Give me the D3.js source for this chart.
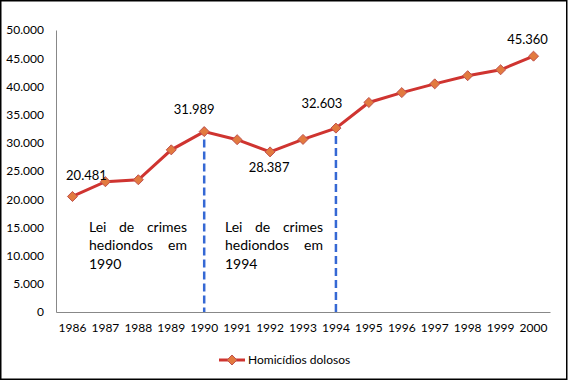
<!DOCTYPE html>
<html>
<head>
<meta charset="utf-8">
<script src="https://cdn.jsdelivr.net/npm/d3@7"></script>
<style>
  body { margin: 0; background: #fff; }
  text { font-family: Lato, "Open Sans", sans-serif; fill: #000; }
</style>
</head>
<body>
<svg id="chart" width="569" height="381"></svg>
<script>
// data
let years = [1986, 1987, 1988, 1989, 1990, 1991, 1992, 1993, 1994, 1995, 1996, 1997, 1998, 1999, 2000];
let homicidios = [20481, 23100, 23450, 28750, 31989, 30550, 28387, 30600, 32603, 37150, 38900, 40450, 41900, 42950, 45360];
let labeledYears = [1986, 1990, 1992, 1994, 2000];
let lawYears = [1990, 1994];
let lawNotes = [["Lei de crimes", "hediondos em", "1990"], ["Lei de crimes", "hediondos em", "1994"]];
let yTicks = [0, 5000, 10000, 15000, 20000, 25000, 30000, 35000, 40000, 45000, 50000];
let seriesName = "Homicídios dolosos";

let ptBR = d3.formatLocale({decimal: ",", thousands: ".", grouping: [3], currency: ["R$", ""]});
let fmt = ptBR.format(",d");

let svg = d3.select('#chart');
let margin = {top: 30, right: 19, bottom: 69, left: 56};
let width = 569 - margin.left - margin.right,
    height = 381 - margin.top - margin.bottom;

// outer border
svg.append('rect')
  .attr('x', 0.75).attr('y', 0.75)
  .attr('width', 566).attr('height', 378.5)
  .attr('fill', 'none').attr('stroke', '#000').attr('stroke-width', 1.5);

let g = svg.append('g').attr('transform', 'translate(' + margin.left + ',' + margin.top + ')');

let x = d3.scaleBand().domain(years).range([0, width]);
let y = d3.scaleLinear().domain([0, 50000]).range([height, 0]);
let cx = d => x(d) + x.bandwidth() / 2;

// y axis
let yAxis = g.append('g')
  .call(d3.axisLeft(y).tickValues(yTicks).tickSize(0).tickPadding(12).tickFormat(fmt));
yAxis.select('.domain').attr('stroke', '#888');
yAxis.selectAll('text').style('font-size', '12px').attr('font-family', null);

// x axis
let xAxis = g.append('g')
  .attr('transform', 'translate(0,' + height + ')')
  .call(d3.axisBottom(x).tickSize(0).tickPadding(11));
xAxis.select('.domain').attr('stroke', '#888');
xAxis.selectAll('text').style('font-size', '12px').attr('font-family', null);

// dashed lines at law years
g.selectAll('.lawline')
  .data(lawYears)
  .enter().append('line')
  .attr('class', 'lawline')
  .attr('x1', d => cx(d)).attr('x2', d => cx(d))
  .attr('y1', d => y(homicidios[years.indexOf(d)]) - 4)
  .attr('y2', height)
  .attr('stroke', '#3568d4')
  .attr('stroke-width', 2.5)
  .attr('stroke-dasharray', '8,4');

// line
let pts = years.map((d, i) => ({year: d, value: homicidios[i]}));
g.append('path')
  .datum(pts)
  .attr('fill', 'none')
  .attr('stroke', '#cf3430')
  .attr('stroke-width', 3)
  .attr('d', d3.line().x(d => cx(d.year)).y(d => y(d.value)));

// markers
let diamond = d3.symbol().type(d3.symbolDiamond2).size(64);
g.selectAll('.marker')
  .data(pts)
  .enter().append('path')
  .attr('class', 'marker')
  .attr('transform', d => 'translate(' + cx(d.year) + ',' + y(d.value) + ')')
  .attr('d', diamond)
  .attr('fill', '#e27a3f')
  .attr('stroke', '#c0504d')
  .attr('stroke-width', 1);

// data labels
let labelOffset = {1986: [14, -21], 1990: [-10, -22], 1992: [-1, 16], 1994: [-14, -25], 2000: [-6, -17]};
g.selectAll('.dlabel')
  .data(pts.filter(d => labeledYears.includes(d.year)))
  .enter().append('text')
  .attr('class', 'dlabel')
  .attr('x', d => cx(d.year) + labelOffset[d.year][0])
  .attr('y', d => y(d.value) + labelOffset[d.year][1])
  .attr('dy', '0.35em')
  .attr('text-anchor', 'middle')
  .style('font-size', '13px')
  .text(d => fmt(d.value));

// justified note text
let noteLeft = [33, 169], noteWidth = 98, noteTop = 197, lineGap = 18.5;
lawNotes.forEach(function(lines, k) {
  lines.forEach(function(line, j) {
    let words = line.split(' ');
    let ty = noteTop + j * lineGap;
    let last = j === lines.length - 1;
    let tmp = words.map(w => g.append('text').style('font-size', '14px').attr('y', ty).attr('dy', '0.35em').text(w));
    if (last || words.length === 1) {
      let px = noteLeft[k];
      tmp.forEach(function(t) { t.attr('x', px); px += t.node().getComputedTextLength() + 4; });
    } else {
      let total = tmp.reduce((s, t) => s + t.node().getComputedTextLength(), 0);
      let gap = (noteWidth - total) / (words.length - 1);
      let px = noteLeft[k];
      tmp.forEach(function(t) { t.attr('x', px); px += t.node().getComputedTextLength() + gap; });
    }
  });
});

// legend
let lg = svg.append('g').attr('transform', 'translate(219,360)');
lg.append('line').attr('x1', 0).attr('x2', 26).attr('stroke', '#cf3430').attr('stroke-width', 3);
lg.append('path').attr('transform', 'translate(13,0)').attr('d', diamond)
  .attr('fill', '#e27a3f').attr('stroke', '#c0504d');
lg.append('text').attr('x', 29).attr('dy', '0.35em').style('font-size', '12px').text(seriesName);
</script>
</body>
</html>
